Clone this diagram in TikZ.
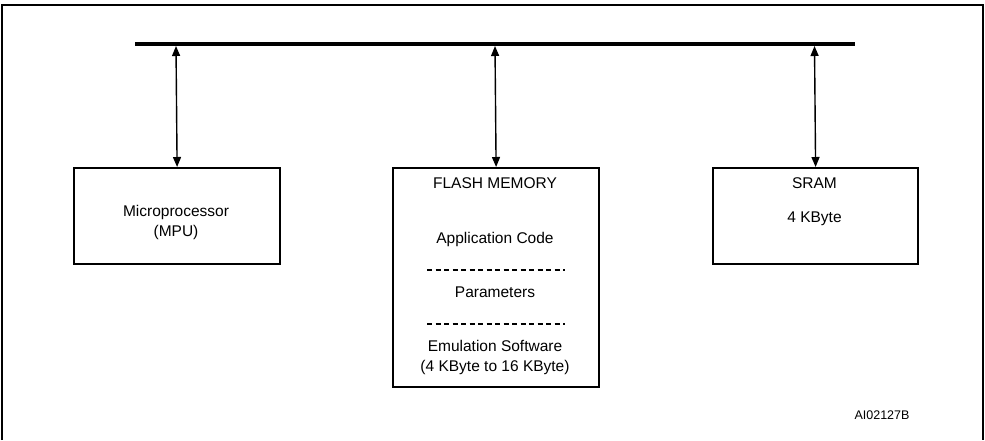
\documentclass[tikz,border=0pt]{standalone}
\usepackage{fontspec}
\setmainfont{Liberation Sans}
\usetikzlibrary{arrows.meta}
\begin{document}
\begin{tikzpicture}[x=1pt,y=-1pt,
  blk/.style={draw,line width=2.2pt,inner sep=0pt,anchor=north west},
  lbl/.style={font=\fontsize{15.5}{20}\selectfont,inner sep=0pt,align=center,anchor=base},
  small/.style={font=\fontsize{12.5}{15}\selectfont,inner sep=0pt,anchor=base},
  link/.style={line width=1.4pt,{Triangle[length=10pt,width=8pt]}-{Triangle[length=10pt,width=8pt]}},
  sepline/.style={line width=1.3pt,dash pattern=on 5pt off 3.5pt}]
\useasboundingbox (0,0) rectangle (985,440);
% frame
\draw[line width=1.6pt] (2,440) -- (2,5) -- (983,5) -- (983,440);
% bus
\draw[line width=4.5pt] (135,44) -- (855,44);
\coordinate (t1) at (176,46);
\coordinate (t2) at (495,46);
\coordinate (t3) at (814.5,46);
% blocks
\node[blk,minimum width=206pt,minimum height=96pt] (mpu) at (73,167) {};
\node[blk,minimum width=206pt,minimum height=219pt] (flash) at (392,167) {};
\node[blk,minimum width=205pt,minimum height=96pt] (sram) at (712,167) {};
% connectors
\draw[link] (t1) -- (mpu.north);
\draw[link] (t2) -- (flash.north);
\draw[link] (t3) -- (sram.north);
% texts
\node[lbl] (mputxt) at (176,236.5) {Microprocessor\\(MPU)};
\node[lbl] (sramtxt) at (814.5,188.5) {SRAM};
\node[lbl] (sramsize) at (814.5,222.5) {4 KByte};
\node[lbl] (flashtxt) at (495,188.5) {FLASH MEMORY};
\node[lbl] (appcode) at (495,243.5) {Application Code};
\node[lbl] (params) at (495,297.5) {Parameters};
\node[lbl] (emul) at (495,371.5) {Emulation Software\\(4 KByte to 16 KByte)};
\draw[sepline] (427,270) -- (565,270);
\draw[sepline] (427,324) -- (565,324);
\node[small] (code) at (882,419.5) {AI02127B};
\end{tikzpicture}
\end{document}
